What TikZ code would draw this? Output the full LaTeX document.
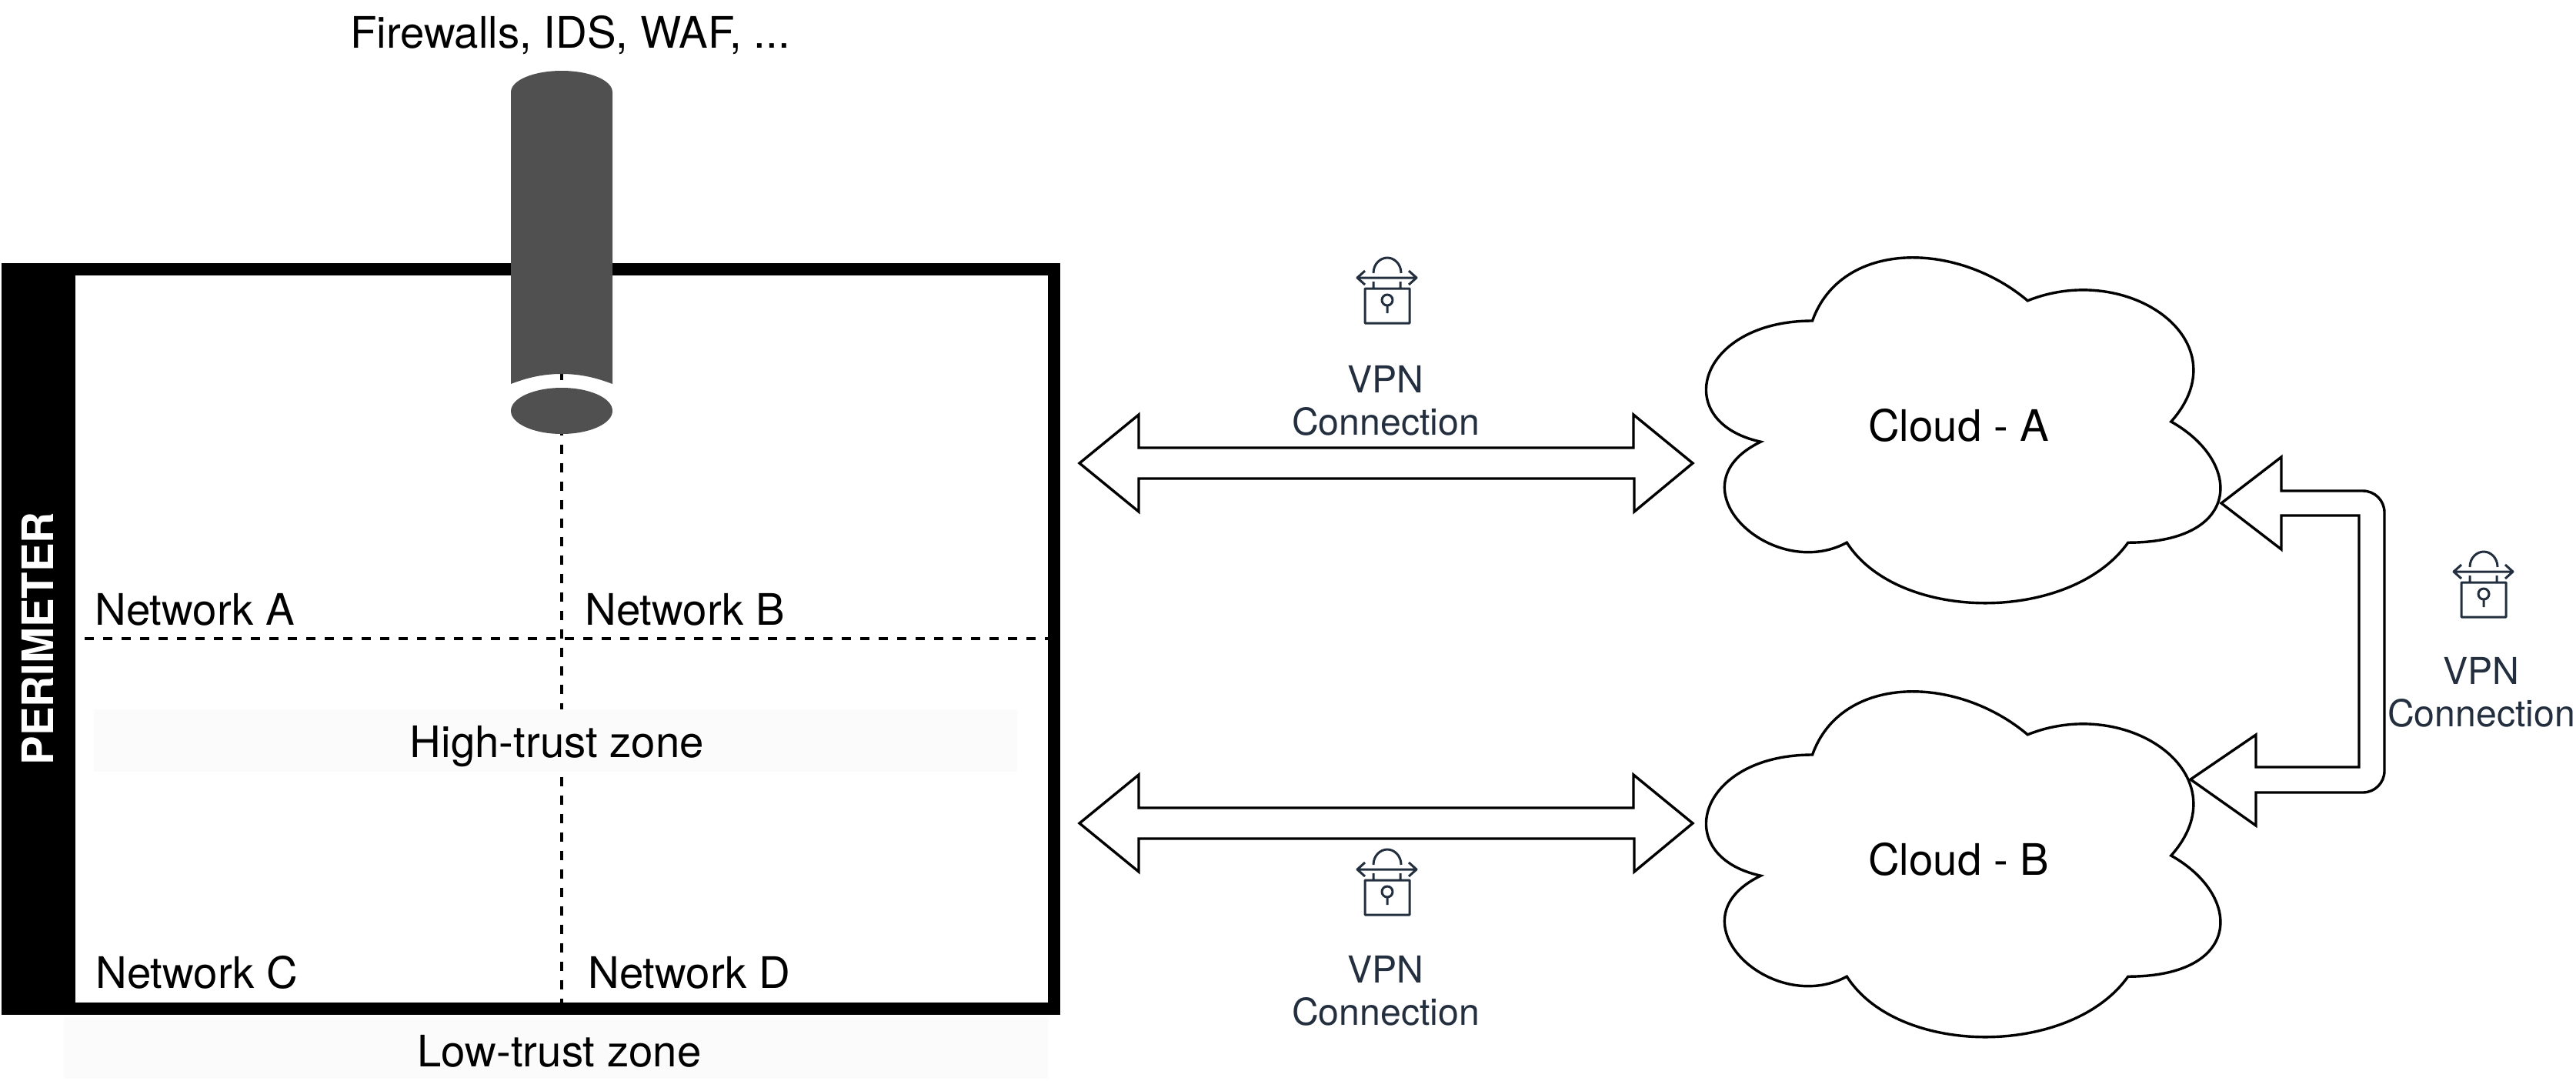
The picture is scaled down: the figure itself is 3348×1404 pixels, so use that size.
\documentclass[tikz,border=0pt]{standalone}
\usepackage{fontspec}
\setmainfont{TeX Gyre Heros}
\newcommand{\lblfont}{\fontsize{28.2}{33}\selectfont}
\newcommand{\vpnfont}{\fontsize{24.1}{27.5}\selectfont}
\definecolor{vpnink}{HTML}{232F3E}
\definecolor{cylgrey}{HTML}{505050}
\definecolor{zonegrey}{HTML}{FBFBFB}
\tikzset{
	lbl/.style={font=\lblfont,inner sep=0pt,text=black},
	vpnlbl/.style={font=\vpnfont,inner sep=0pt,text=vpnink,align=center},
	zonebox/.style={fill=zonegrey,draw=none},
	netline/.style={line width=2pt,dash pattern=on 6pt off 6pt},
	blockline/.style={line width=1.7pt,line join=miter},
	vpnlock/.pic={
		\draw[vpnink,line width=1.5pt,line join=round]
			(-29,14) rectangle (29,59)
			(-18,5) -- (-18,14) (17,5) -- (17,14)
			(-18,-6) .. controls (-18,-18) and (-9,-26) .. (0,-26) .. controls (9,-26) and (18,-18) .. (18,-6)
			(-39,0) -- (38,0)
			(-29,-9) -- (-39,0) -- (-29,9) (28,-9) -- (38,0) -- (28,9)
			(0,29) circle (7) (0,36) -- (0,46);
	},
}
\begin{document}
\begin{tikzpicture}[x=0.5pt,y=-0.5pt]
	\useasboundingbox (0,0) rectangle (3348,1404);
	% perimeter
	\draw[line width=8pt] (10,350) rectangle (1370,1311);
	\fill (2,342) rectangle (98,1319);
	\node[lbl,text=white,rotate=90] (perimeter) at (49,830) {\bfseries PERIMETER};
	% dashed network split
	\path (730,482) coordinate (fw_b) (730,1311) coordinate (net_s)
		(110,830) coordinate (net_w) (1362,830) coordinate (net_e);
	\draw[netline] (fw_b)--(net_s) (net_w)--(net_e);
	% zones
	\fill[zonebox] (122,922) rectangle (1322,1003);
	\fill[zonebox] (83,1322) rectangle (1362,1402);
	% firewall cylinder
	\fill[cylgrey] (664,120) .. controls (664,104) and (694,92) .. (730,92)
		.. controls (766,92) and (796,104) .. (796,120) -- (796,499)
		.. controls (775,491) and (755,486) .. (730,486)
		.. controls (705,486) and (685,491) .. (664,499) -- cycle;
	\fill[cylgrey] (730,534) ellipse (66 and 30);
	\node[lbl,anchor=base] (fw) at (741,62) {Firewalls, IDS, WAF, ...};
	% labels
	\foreach \n/\x/\y/\t in {a/123/812/Network A, b/760/812/Network B, c/124/1284/Network C, d/764/1284/Network D}{
		\node[lbl,anchor=base west] (net\n) at (\x,\y) {\t};
	}
	\node[lbl] (high) at (724,970) {High-trust zone};
	\node[lbl] (low) at (727,1366) {Low-trust zone};
	% clouds
	\foreach \n/\y/\t in {A/286/Cloud - A, B/850/Cloud - B}{
		\begin{scope}[shift={(2169,\y)},x=3.73pt,y=-2.62pt]
			\draw[line width=1.7pt,fill=white] (25,25) .. controls (5,25) and (0,50) .. (16,55)
				.. controls (0,66) and (18,90) .. (31,80)
				.. controls (40,100) and (70,100) .. (80,80)
				.. controls (100,80) and (100,60) .. (87.5,50)
				.. controls (100,30) and (80,10) .. (62.5,20)
				.. controls (50,5) and (30,5) .. (25,25) -- cycle;
			\node[lbl] (cloud\n) at (50.5,51) {\t};
		\end{scope}
	}
	% block arrows
	\foreach \n/\y in {a/602,b/1070}{
		\coordinate (link\n_w) at (1403,\y);
		\coordinate (link\n_e) at (2200,\y);
		\draw[blockline] (link\n_w) -- ++(77,-63) -- ++(0,43) -- ++(643,0) -- ++(0,-43) -- (link\n_e)
			-- ++(-76,63) -- ++(0,-43) -- ++(-644,0) -- ++(0,43) -- cycle;
	}
	\path (2887,654) coordinate (tipA) (2847,1013) coordinate (tipB);
	\draw[blockline] (tipA) -- ++(78,-60) -- ++(0,44) [rounded corners=14pt] -- (3099,638) -- (3099,1030)
		[rounded corners=0pt] -- (2932,1030) -- (2932,1073) -- (tipB) -- (2932,955) -- (2932,997)
		-- (3066,997) -- (3066,670) -- (2965,670) -- (2965,714) -- cycle;
	% vpn icons
	\foreach \x/\y/\lx/\ly in {1803/361/1801/521, 1803/1130/1801/1288, 3228/743/3225/900}{
		\pic at (\x,\y) {vpnlock};
		\node[vpnlbl] at (\lx,\ly) {VPN\\Connection};
	}
\end{tikzpicture}
\end{document}
